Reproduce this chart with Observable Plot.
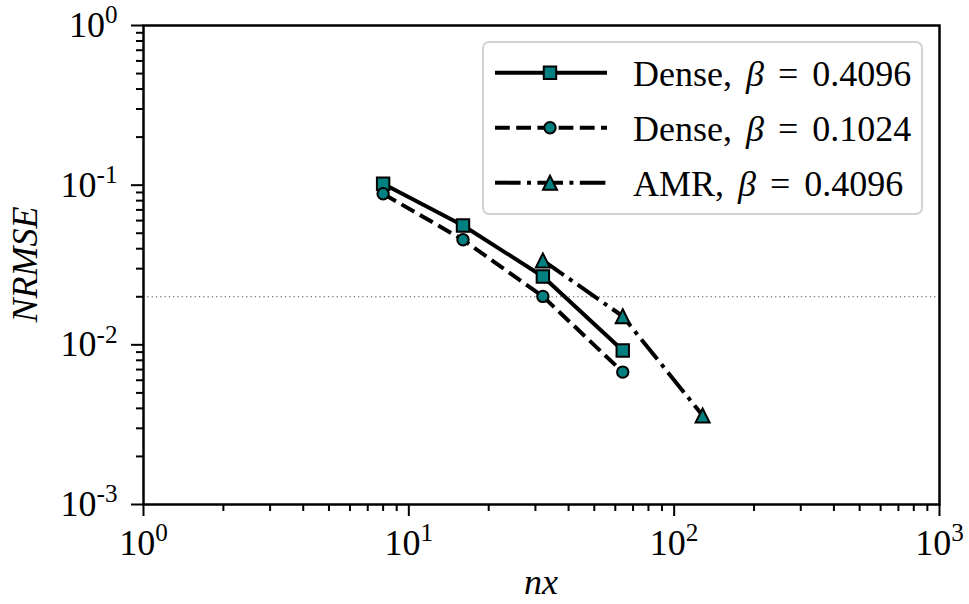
<!DOCTYPE html>
<html>
<head>
<meta charset="utf-8">
<script src="https://cdn.jsdelivr.net/npm/d3@7"></script>
<script src="https://cdn.jsdelivr.net/npm/@observablehq/plot@0.6"></script>
<style>
  body { margin: 0; background: #fff; }
  #chart { position: relative; width: 969px; height: 604px; }
  #chart > svg { position: absolute; left: 0; top: 0; }
</style>
</head>
<body>
<div id="chart"></div>
<script>
// Grid resolution (cells per side) and normalised RMS error for each run
const nxDense = [8, 16, 32, 64];
const errDenseHigh = [0.102, 0.0559, 0.0268, 0.00922];   // Dense, beta = 0.4096
const errDenseLow = [0.0883, 0.0455, 0.0201, 0.00675];   // Dense, beta = 0.1024
const nxAmr = [32, 64, 128];
const errAmr = [0.0338, 0.0151, 0.00361];                // AMR, beta = 0.4096

// Reference error level
const targetError = [0.02];

// Legend text
const runNames = ["Dense", "Dense", "AMR"];
const betaValues = ["0.4096", "0.1024", "0.4096"];

// Axis ticks
const xMajor = [1, 10, 100, 1000];
const yMajor = [1e-3, 1e-2, 1e-1, 1];
const xMinor = xMajor.slice(0, -1).flatMap(d => d3.range(2, 10).map(k => k * d));
const yMinor = yMajor.slice(0, -1).flatMap(d => d3.range(2, 10).map(k => k * d));

// Marker shapes (half-size equals r)
const squareSym = { draw(ctx, size) { const h = Math.sqrt(size / Math.PI);
  ctx.moveTo(-h, -h); ctx.lineTo(h, -h); ctx.lineTo(h, h); ctx.lineTo(-h, h); ctx.closePath(); } };
const triangleSym = { draw(ctx, size) { const h = Math.sqrt(size / Math.PI);
  ctx.moveTo(0, -h); ctx.lineTo(h, h); ctx.lineTo(-h, h); ctx.closePath(); } };

const series = [
  { nx: nxDense, err: errDenseHigh, dash: null, symbol: squareSym, r: 6.2 },
  { nx: nxDense, err: errDenseLow, dash: "14.8,6.4", symbol: d3.symbolCircle, r: 5.7 },
  { nx: nxAmr, err: errAmr, dash: "25.6,6.4,4,6.4", symbol: triangleSym, r: 7 }
].map((s, i) => ({ ...s, rows: s.nx.map((x, j) => ({ nx: x, err: s.err[j] })) }));

const W = 969, H = 604, mL = 143, mR = 30, mT = 25, mB = 100;
const FONT = "'Liberation Serif', 'DejaVu Serif', serif";
const TEAL = "#008080";
const expFmt = d => "10^" + Math.round(Math.log10(d));

const plot = Plot.plot({
  width: W, height: H,
  marginLeft: mL, marginRight: mR, marginTop: mT, marginBottom: mB,
  x: { type: "log", domain: [1, 1000] },
  y: { type: "log", domain: [1e-3, 1] },
  style: { fontFamily: FONT, fontSize: "36px", color: "black", background: "transparent", overflow: "visible" },
  marks: [
    Plot.ruleY(targetError, { stroke: "#555", strokeWidth: 1, strokeDasharray: "1.3,3" }),
    ...series.map(s => Plot.line(s.rows, {
      x: "nx", y: "err", stroke: "black", strokeWidth: 4,
      strokeDasharray: s.dash ?? undefined, strokeLinecap: "butt", strokeLinejoin: "round"
    })),
    ...series.map(s => Plot.dot(s.rows, {
      x: "nx", y: "err", symbol: s.symbol, r: s.r, fill: TEAL, stroke: "black", strokeWidth: 2
    })),
    Plot.axisX({ ticks: xMinor, anchor: "bottom", tickSize: 7, strokeWidth: 2, tickFormat: () => "", label: null }),
    Plot.axisX({ ticks: xMajor, anchor: "bottom", tickSize: 12, strokeWidth: 2, tickPadding: 13, tickFormat: expFmt, label: null }),
    Plot.axisY({ ticks: yMinor, anchor: "left", tickSize: 7, strokeWidth: 2, tickFormat: () => "", label: null }),
    Plot.axisY({ ticks: yMajor, anchor: "left", tickSize: 12, strokeWidth: 2, tickPadding: 14, tickFormat: expFmt, label: null }),
    Plot.frame({ stroke: "black", strokeWidth: 2.5 })
  ]
});

const chart = document.getElementById("chart");
chart.appendChild(plot);

// Turn "10^k" tick labels into a base with a raised exponent
d3.select(plot).selectAll('g[aria-label$="-axis tick label"] text').each(function () {
  const t = this.textContent;
  if (!t.includes("^")) return;
  const [base, exp] = t.split("^");
  const el = d3.select(this);
  el.text(null);
  el.append("tspan").text(base);
  el.append("tspan").attr("font-size", "0.7em").attr("dy", "-0.55em").text(exp);
});

// Axis titles
const svg = d3.select(plot);
svg.append("text")
  .attr("x", mL + (W - mL - mR) / 2).attr("y", 594)
  .attr("text-anchor", "middle").attr("font-style", "italic")
  .attr("font-family", FONT).attr("font-size", 36)
  .text("nx");
svg.append("text")
  .attr("transform", `translate(37,${mT + (H - mT - mB) / 2}) rotate(-90)`)
  .attr("text-anchor", "middle").attr("font-style", "italic")
  .attr("font-family", FONT).attr("font-size", 36)
  .text("NRMSE");

// Legend in the upper right of the axes
const leg = d3.select(chart).append("svg")
  .attr("width", W).attr("height", H)
  .style("pointer-events", "none");
leg.append("rect")
  .attr("x", 483).attr("y", 42).attr("width", 439).attr("height", 172)
  .attr("rx", 6).attr("fill", "rgba(255,255,255,0.8)")
  .attr("stroke", "#d2d2d2").attr("stroke-width", 2);
const rowY = [72.7, 127.7, 182.7];
series.forEach((s, i) => {
  const g = leg.append("g").attr("transform", `translate(0,${rowY[i]})`);
  g.append("line").attr("x1", 495).attr("x2", 607).attr("y1", 0).attr("y2", 0)
    .attr("stroke", "black").attr("stroke-width", 4)
    .attr("stroke-dasharray", s.dash ?? null);
  g.append("path")
    .attr("transform", "translate(550,0)")
    .attr("d", d3.symbol(s.symbol, s.r * s.r * Math.PI)())
    .attr("fill", TEAL).attr("stroke", "black").attr("stroke-width", 2);
  const txt = g.append("text")
    .attr("x", 633).attr("y", 13.5)
    .attr("font-family", FONT).attr("font-size", 36)
    .attr("xml:space", "preserve").style("white-space", "pre")
    .style("word-spacing", "5px");
  txt.append("tspan").text(`${runNames[i]}, `);
  txt.append("tspan").attr("font-style", "italic").text("β");
  txt.append("tspan").text(` = ${betaValues[i]}`);
});
</script>
</body>
</html>
